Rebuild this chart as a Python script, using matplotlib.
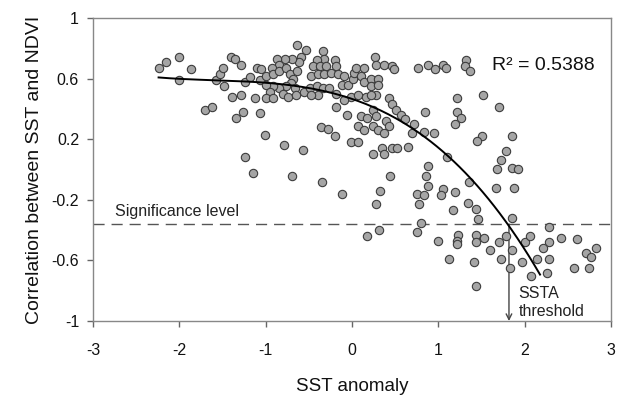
import matplotlib
matplotlib.use("Agg")
import matplotlib.pyplot as plt
import numpy as np

plt.rcParams['font.family'] = ['Liberation Sans', 'DejaVu Sans']

# Scatter data: SST anomaly (x) vs correlation between SST and NDVI (y)
sst_anomaly = [
    -2.24, -2.15, -2.00, -1.86, -2.00, -1.58, -1.53, -1.49, -1.48, -1.70, -1.62,
    -1.40, -1.36, -1.39, -1.34, -1.24, -0.57, -0.79,
    -0.64, -0.59, -0.61, -0.69, -0.78, -0.87, -0.84, -0.92, -1.10, -1.05, -1.28,
    -1.24, -1.18, -1.07, -0.99, -0.91, -0.84, -0.76, -0.72, -0.68, -0.64, -0.70,
    -0.66, -0.76, -0.84, -0.91, -0.99, -0.95, -0.99, -0.91, -0.80, -0.74, -0.65,
    -0.55, -1.28, -1.12, -1.26, -1.06, -1.01,
    -0.53, -0.34, -0.32, -0.41, -0.45, -0.37, -0.30, -0.20, -0.18, -0.47, -0.39,
    -0.32, -0.24, -0.16, -0.09, -0.12, -0.05, 0.01, 0.03, 0.05, 0.14, 0.11, 0.14,
    -0.49, -0.41, -0.34, -0.26, -0.39, -0.47, -0.18, -0.01, 0.07, 0.16, -0.09,
    -0.18, -0.06, 0.11, 0.18, 0.07, 0.14, -0.36, -0.28, -0.19, -0.01, 0.07,
    0.27, 0.28, 0.37, 0.46, 0.49, 0.77, 0.88, 0.96, 0.22, 0.30, 0.22, 0.30, 0.28,
    0.22, 0.43, 0.47, 0.51, 0.57, 0.62, 0.72, 0.85, 0.24, 0.28, 0.24, 0.30, 0.39,
    0.43, 0.37, 0.70, 0.84, 0.95, 0.24, 0.35, 0.37, 0.46, 0.52, 0.65,
    1.05, 1.09, 1.32, 1.31, 1.37, 1.22, 1.22, 1.26, 1.20, 1.10, 0.88,
    1.52, 1.71, 1.51, 1.45, 1.85, 1.79, 1.73, 1.68, 1.86, 1.92,
    -0.11, 0.44, 0.32, 0.28, 0.18, 0.31, 0.75, 0.84, 0.78, 0.80, 0.75, 0.86, 0.88,
    1.05, 1.03, 1.20, 1.17, 1.36, 1.35, 1.00, 1.23, 1.22, 1.22, 1.12,
    1.67, 1.88, 1.44, 1.46, 1.86, 2.28, 1.44, 1.53, 1.44, 1.79, 1.71, 1.60, 1.86,
    2.00, 2.06, 2.28, 2.21, 2.42, 2.61, 2.71, 2.77, 2.83, 1.41, 1.73, 1.97, 2.14,
    2.28, 1.83, 2.08, 2.26, 2.57, 2.75, 1.44,
    -1.15, -0.69, -0.35,
]
correlation = [
    0.67, 0.71, 0.74, 0.66, 0.59, 0.59, 0.63, 0.67, 0.55, 0.39, 0.41,
    0.74, 0.73, 0.48, 0.34, 0.08, 0.13, 0.16,
    0.82, 0.74, 0.71, 0.73, 0.73, 0.73, 0.69, 0.67, 0.67, 0.66, 0.69,
    0.58, 0.61, 0.59, 0.62, 0.63, 0.65, 0.67, 0.63, 0.60, 0.65, 0.57,
    0.54, 0.55, 0.54, 0.55, 0.56, 0.51, 0.47, 0.47, 0.50, 0.48, 0.49,
    0.51, 0.49, 0.47, 0.38, 0.37, 0.23,
    0.79, 0.78, 0.73, 0.72, 0.68, 0.68, 0.68, 0.72, 0.68, 0.62, 0.63,
    0.63, 0.64, 0.63, 0.62, 0.56, 0.56, 0.60, 0.64, 0.67, 0.67, 0.62, 0.58,
    0.54, 0.55, 0.54, 0.54, 0.49, 0.49, 0.50, 0.48, 0.49, 0.48, 0.46,
    0.41, 0.36, 0.35, 0.34, 0.29, 0.26, 0.28, 0.27, 0.22, 0.18, 0.18,
    0.74, 0.69, 0.69, 0.68, 0.66, 0.67, 0.69, 0.66, 0.60, 0.60, 0.55, 0.56, 0.49,
    0.49, 0.47, 0.43, 0.39, 0.36, 0.33, 0.30, 0.38, 0.39, 0.35, 0.29, 0.26, 0.32,
    0.29, 0.24, 0.24, 0.25, 0.24, 0.10, 0.14, 0.10, 0.14, 0.14, 0.15,
    0.69, 0.67, 0.72, 0.68, 0.65, 0.47, 0.38, 0.34, 0.30, 0.08, 0.02,
    0.49, 0.41, 0.22, 0.19, 0.22, 0.12, 0.06, 0.00, 0.01, 0.00,
    -0.16, -0.04, -0.14, -0.23, -0.44, -0.40, -0.16, -0.17, -0.23, -0.35, -0.41, -0.04, -0.11,
    -0.13, -0.17, -0.15, -0.27, -0.08, -0.22, -0.47, -0.43, -0.47, -0.49, -0.59,
    -0.12, -0.12, -0.26, -0.33, -0.32, -0.38, -0.43, -0.45, -0.48, -0.44, -0.48, -0.53, -0.53,
    -0.48, -0.44, -0.48, -0.52, -0.45, -0.46, -0.55, -0.58, -0.52, -0.61, -0.59, -0.61, -0.59,
    -0.59, -0.65, -0.70, -0.68, -0.65, -0.65, -0.77,
    -0.02, -0.04, -0.08,
]

# Points on the fitted trend curve
trend_x = [-2.24, -1.58, -1.30, -0.95, -0.55, -0.17, 0.03, 0.26, 0.58, 1.01, 1.39, 1.815, 2.18]
trend_y = [0.586, 0.613, 0.602, 0.584, 0.536, 0.481, 0.448, 0.382, 0.283, 0.162, -0.015, -0.36, -0.723]

significance = -0.36
ssta_threshold = 1.82

x_ticks = [-3, -2, -1, 0, 1, 2, 3]
y_ticks = [-1, -0.6, -0.2, 0.2, 0.6, 1]
y_tick_labels = ['-1', '-0.6', '-0.2', '0.2', '0.6', '1']

fig = plt.figure(figsize=(6.22, 3.99), dpi=100)
ax = fig.add_axes([0.1495, 0.1955, 0.8325, 0.7595])

ax.scatter(sst_anomaly, correlation, s=36, facecolor='#a5a5a5', edgecolor='#3c3c3c',
           linewidths=0.8, zorder=3)

# smooth polynomial trend line (like a spreadsheet trend line) through the read curve
coef = np.polyfit(trend_x, trend_y, 3)
xs = np.linspace(min(trend_x), max(trend_x), 200)
ax.plot(xs, np.polyval(coef, xs), color='black', lw=1.4, zorder=4)

ax.axhline(significance, color='#555555', lw=1.0, dashes=(8, 5), zorder=2)
ax.annotate('', xy=(ssta_threshold, -1.0), xytext=(ssta_threshold, significance),
            arrowprops=dict(arrowstyle='->', color='#444444', lw=1.0,
                            shrinkA=0, shrinkB=0), zorder=2)

ax.text(-2.74, -0.31, 'Significance level', fontsize=11.5, color='#222222',
        va='baseline', ha='left')
ax.text(1.62, 0.657, 'R² = 0.5388', fontsize=14, color='#111111',
        va='baseline', ha='left')
ax.text(1.93, -0.848, 'SSTA', fontsize=11.5, color='#222222', va='baseline', ha='left')
ax.text(1.93, -0.97, 'threshold', fontsize=11.5, color='#222222', va='baseline', ha='left')

ax.set_xlim(-3, 3)
ax.set_ylim(-1, 1)
ax.set_xticks(x_ticks)
ax.set_xticklabels([str(t) for t in x_ticks])
ax.set_yticks(y_ticks)
ax.set_yticklabels(y_tick_labels)
ax.tick_params(axis='both', direction='out', length=4, width=1, color='#666666',
               labelsize=11.5, labelcolor='#111111')
ax.tick_params(axis='x', pad=12)
ax.tick_params(axis='y', pad=6)
for side in ['left', 'bottom', 'top', 'right']:
    ax.spines[side].set_color('#888888')
    ax.spines[side].set_linewidth(1.0)

ax.set_xlabel('SST anomaly', fontsize=13.5, color='#111111', labelpad=14)
ax.set_ylabel('Correlation between SST and NDVI', fontsize=14, color='#111111', labelpad=6)

fig.savefig('out.png', dpi=100)
